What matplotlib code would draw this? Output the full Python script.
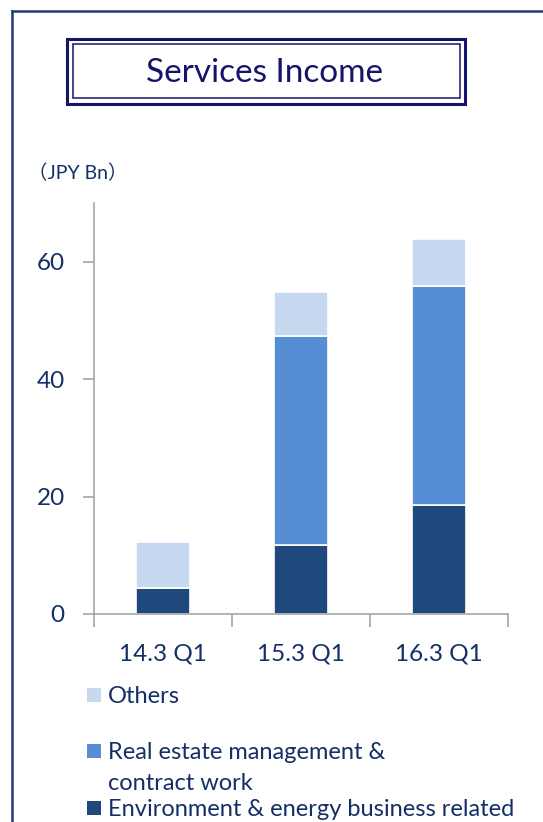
import matplotlib.pyplot as plt
from matplotlib.patches import Rectangle
from matplotlib.lines import Line2D

# data (JPY Bn)
periods = ["14.3 Q1", "15.3 Q1", "16.3 Q1"]
env_energy = [4.4, 11.7, 18.5]
real_estate = [0.0, 35.6, 37.3]
others = [7.8, 7.6, 8.1]

series_names = ["Others", "Real estate management &\ncontract work",
                "Environment & energy business related"]
series_colors = ["#C6D9F1", "#558ED5", "#1F497D"]

TEXT = "#142F66"
TITLE = "#14146B"
FRAME = "#1F3A7A"
FONT = ["Lato", "Noto Sans CJK JP", "DejaVu Sans"]

plt.rcParams["font.family"] = FONT

W, H = 543, 822
fig = plt.figure(figsize=(W / 100, H / 100), dpi=100)

# outer frame (left and top edges)
fig.add_artist(Line2D([12 / W, 12 / W], [0, 1 - 11 / H], color=FRAME, lw=1.8))
fig.add_artist(Line2D([12 / W, 1], [1 - 11 / H, 1 - 11 / H], color=FRAME, lw=1.8))

# title box, double line
fig.add_artist(Rectangle((67 / W, 1 - 104 / H), 398 / W, 65 / H, fill=False,
                         ec=TITLE, lw=2.2, transform=fig.transFigure))
fig.add_artist(Rectangle((72.5 / W, 1 - 98.5 / H), 387 / W, 54 / H, fill=False,
                         ec=TITLE, lw=1.1, transform=fig.transFigure))
fig.text(265 / W, 1 - 73 / H, "Services Income", ha="center", va="center",
         fontsize=24, color=TITLE)

fig.text(28 / W, 1 - 173 / H, "（JPY Bn）", ha="left", va="center",
         fontsize=14, color=TEXT)

ax = fig.add_axes([94 / W, 1 - 614 / H, 414 / W, 411 / H])
x = range(len(periods))
bw = 0.39
bottom2 = [a + b for a, b in zip(env_energy, real_estate)]
ax.bar(x, env_energy, bw, color=series_colors[2], edgecolor="white", lw=1.2)
ax.bar(x, real_estate, bw, bottom=env_energy, color=series_colors[1],
       edgecolor="white", lw=1.2)
ax.bar(x, others, bw, bottom=bottom2, color=series_colors[0],
       edgecolor="white", lw=1.2)

ax.set_xlim(-0.5, 2.5)
ax.set_ylim(0, 70)
ax.set_yticks([0, 20, 40, 60])
ax.set_xticks(list(x))
ax.set_xticklabels(periods)
ax.set_xticks([-0.5, 0.5, 1.5, 2.5], minor=True)
ax.tick_params(axis="x", which="major", length=0, pad=21, labelsize=17.5,
               labelcolor=TEXT)
ax.tick_params(axis="x", which="minor", length=9, width=1.2, color="#A6A6A6",
               direction="out")
ax.tick_params(axis="y", length=8, width=1.2, color="#A6A6A6", pad=13,
               labelsize=17.5, labelcolor=TEXT)
for s in ["top", "right"]:
    ax.spines[s].set_visible(False)
for s in ["left", "bottom"]:
    ax.spines[s].set_color("#A6A6A6")
    ax.spines[s].set_linewidth(1.2)

# legend, drawn by hand to keep the marker on the first text line
legend_y = [695, 751, 808]
for name, col, yy in zip(series_names, series_colors, legend_y):
    fig.add_artist(Rectangle((87 / W, 1 - (yy + 7) / H), 14 / W, 14 / H,
                             fc=col, ec="none", transform=fig.transFigure))
    fig.text(108 / W, 1 - (yy - 9) / H, name, ha="left", va="top",
             fontsize=17, color=TEXT, linespacing=1.6)

fig.savefig("out.png", dpi=100)
